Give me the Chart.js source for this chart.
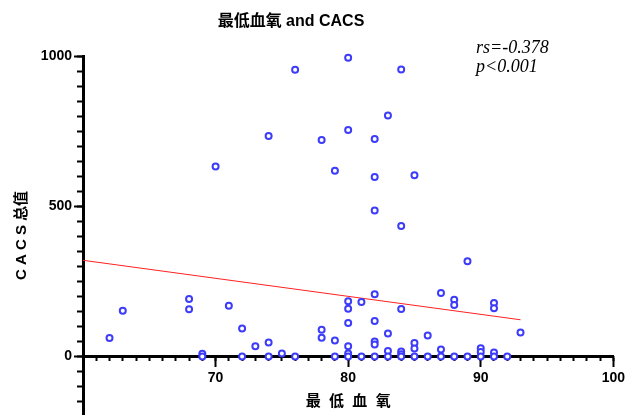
<!DOCTYPE html>
<html>
<head>
<meta charset="utf-8">
<script src="https://cdn.jsdelivr.net/npm/chart.js@4.4.1/dist/chart.umd.min.js"></script>
<style>
html,body{margin:0;padding:0;background:#fff;}
#wrap{width:629px;height:415px;position:relative;}
</style>
</head>
<body>
<div id="wrap"><canvas id="c"></canvas></div>
<script>
// ---- data ----
const chartTitle = "最低血氧 and CACS";
const xTitle = "最  低  血  氧";
const yTitle = "C A C S 总值";
const statLines = ["rs=-0.378", "p<0.001"];

const minO2 = [
  62, 63, 68, 68, 69, 69, 70, 71, 72, 72, 73, 74, 74, 74, 75, 76, 76,
  78, 78, 78, 79, 79, 79,
  80, 80, 80, 80, 80, 80, 80, 80,
  81, 81,
  82, 82, 82, 82, 82, 82, 82, 82,
  83, 83, 83, 83,
  84, 84, 84, 84, 84, 84,
  85, 85, 85, 85,
  86, 86, 87, 87, 87, 88, 88, 88, 89, 89,
  90, 90, 90, 91, 91, 91, 91, 92, 93
];
const cacs = [
  61, 152, 191, 157, 9, 0, 632, 169, 93, 0, 34, 734, 46, 0, 10, 954, 0,
  720, 89, 62, 618, 53, 0,
  994, 754, 184, 159, 111, 34, 10, 0,
  181, 0,
  724, 597, 486, 207, 118, 50, 40, 0,
  802, 76, 18, 0,
  955, 434, 158, 16, 7, 0,
  603, 45, 26, 0,
  70, 0, 211, 23, 0, 189, 171, 0, 317, 0,
  27, 15, 0, 178, 160, 13, 0, 0, 80
];
// fitted line end points
const fitX = [60, 93];
const fitY = [320, 122];

const xMajorTicks = [70, 80, 90, 100];
const yMajorTicks = [0, 500, 1000];
const xMinorStep = 1;
const yMinorStep = 50;
const xRange = [60, 100];
const yRange = [-195, 1000];

// ---- build ----
const pts = minO2.map((x, i) => ({x: x, y: cacs[i]}));
const fitPts = fitX.map((x, i) => ({x: x, y: fitY[i]}));

function stepTicks(min, max, step) {
  const out = [];
  const start = Math.ceil(min / step) * step;
  for (let v = start; v <= max + 1e-9; v += step) out.push({value: v});
  return out;
}

const FONT = "'Liberation Sans', 'Noto Sans CJK SC', Arial, sans-serif";
Chart.defaults.font.family = FONT;
Chart.defaults.color = '#000';

const textPlugin = {
  id: 'texts',
  afterDraw(chart) {
    const ctx = chart.ctx;
    ctx.save();
    ctx.fillStyle = '#000';
    ctx.textBaseline = 'middle';
    ctx.textAlign = 'center';
    ctx.font = "bold 16px " + FONT;
    ctx.fillText(chartTitle, 291, 22);
    ctx.textAlign = 'left';
    ctx.font = "italic 18px 'Liberation Serif', 'Times New Roman', serif";
    ctx.fillText(statLines[0], 476, 48);
    ctx.fillText(statLines[1], 476, 67);
    ctx.restore();
  }
};

const noPad = s => { s.paddingTop = 0; s.paddingBottom = 0; };

new Chart(document.getElementById('c'), {
  type: 'scatter',
  data: {
    datasets: [
      {
        label: 'CACS',
        data: pts,
        order: 1,
        pointStyle: 'circle',
        pointRadius: 3,
        pointHoverRadius: 3,
        borderWidth: 2,
        borderColor: '#3c3cfa',
        backgroundColor: '#ffffff',
        clip: false
      },
      {
        label: 'fit',
        data: fitPts,
        order: 2,
        showLine: true,
        borderColor: '#ff2020',
        borderWidth: 1,
        pointRadius: 0,
        clip: false
      }
    ]
  },
  options: {
    responsive: true,
    maintainAspectRatio: false,
    animation: false,
    events: [],
    layout: {autoPadding: false, padding: {top: 56, right: 14, bottom: 0, left: 0}},
    plugins: {legend: {display: false}, tooltip: {enabled: false}, title: {display: false}},
    scales: {
      x: {
        type: 'linear',
        min: xRange[0], max: xRange[1],
        position: {y: 0},
        afterBuildTicks: s => { s.ticks = xMajorTicks.map(v => ({value: v})); },
        ticks: {font: {size: 14, weight: 'bold'}, padding: 4, color: '#000', maxRotation: 0, autoSkip: false,
                callback: v => String(v)},
        grid: {drawOnChartArea: false, drawTicks: true, tickLength: 9, tickWidth: 2, tickColor: '#000'},
        border: {display: true, width: 3, color: '#000'},
        title: {display: true, text: xTitle, font: {size: 15, weight: 'bold'}, color: '#000', padding: {top: 3, bottom: 4}}
      },
      x2: {
        type: 'linear',
        min: xRange[0], max: xRange[1],
        position: {y: 0},
        afterBuildTicks: s => { s.ticks = stepTicks(xRange[0] + xMinorStep, xRange[1], xMinorStep); },
        ticks: {display: false},
        grid: {drawOnChartArea: false, drawTicks: true, tickLength: 5, tickWidth: 2, tickColor: '#000'},
        border: {display: false}
      },
      y: {
        type: 'linear',
        min: yRange[0], max: yRange[1],
        position: 'left',
        afterBuildTicks: s => { s.ticks = yMajorTicks.map(v => ({value: v})); },
        afterFit: s => { s.width = 83; noPad(s); },
        ticks: {font: {size: 14, weight: 'bold'}, padding: 2, color: '#000', callback: v => String(v)},
        grid: {drawOnChartArea: false, drawTicks: true, tickLength: 9, tickWidth: 2, tickColor: '#000'},
        border: {display: true, width: 3, color: '#000'},
        title: {display: true, text: yTitle, font: {size: 15, weight: 'bold'}, color: '#000', padding: {top: 13, bottom: 4}}
      },
      y2: {
        type: 'linear',
        min: yRange[0], max: yRange[1],
        position: {x: xRange[0]},
        afterBuildTicks: s => { s.ticks = stepTicks(yRange[0], yRange[1], yMinorStep); },
        afterFit: noPad,
        ticks: {display: false},
        grid: {drawOnChartArea: false, drawTicks: true, tickLength: 6, tickWidth: 2, tickColor: '#000'},
        border: {display: false}
      }
    }
  },
  plugins: [textPlugin]
});
</script>
</body>
</html>
